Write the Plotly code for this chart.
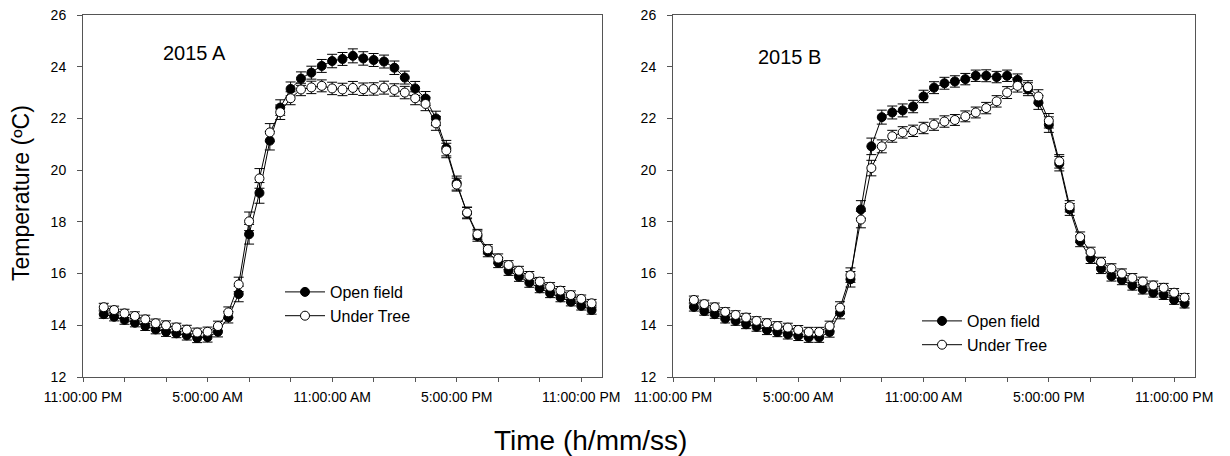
import pandas as pd
import plotly.graph_objects as go
from plotly.subplots import make_subplots

FONT = "Liberation Sans, Arial, sans-serif"
BLACK = "#000000"
WHITE = "#ffffff"
SPINE = "#555555"

# half-hourly readings, midnight -> 23:30
times = pd.date_range("2015-01-02 00:00", periods=48, freq="30min")

open_field_A = [14.43, 14.33, 14.21, 14.10, 13.97, 13.84, 13.75, 13.69, 13.61, 13.51, 13.54, 13.75,
                14.31, 15.21, 17.52, 19.12, 21.14, 22.42, 23.14, 23.54, 23.77, 24.03, 24.22, 24.30,
                24.42, 24.32, 24.26, 24.20, 23.96, 23.58, 23.16, 22.77, 22.00, 20.85, 19.50, 18.34,
                17.45, 16.84, 16.42, 16.11, 15.88, 15.65, 15.43, 15.24, 15.08, 14.91, 14.75, 14.59]
under_tree_A = [14.70, 14.59, 14.46, 14.36, 14.23, 14.08, 14.00, 13.92, 13.83, 13.72, 13.75, 13.97,
                14.50, 15.58, 18.02, 19.68, 21.46, 22.24, 22.78, 23.12, 23.20, 23.26, 23.16, 23.12,
                23.18, 23.13, 23.14, 23.19, 23.10, 23.00, 22.78, 22.56, 21.81, 20.76, 19.44, 18.36,
                17.52, 16.94, 16.58, 16.33, 16.11, 15.91, 15.69, 15.49, 15.34, 15.17, 15.02, 14.85]
open_field_B = [14.71, 14.55, 14.43, 14.26, 14.17, 14.04, 13.94, 13.82, 13.74, 13.65, 13.59, 13.53,
                13.53, 13.74, 14.49, 15.78, 18.48, 20.92, 22.05, 22.23, 22.31, 22.46, 22.85, 23.19,
                23.36, 23.43, 23.52, 23.65, 23.65, 23.60, 23.65, 23.49, 23.13, 22.62, 21.76, 20.25,
                18.48, 17.25, 16.59, 16.19, 15.90, 15.75, 15.54, 15.39, 15.26, 15.17, 14.98, 14.84]
under_tree_B = [14.98, 14.82, 14.70, 14.52, 14.40, 14.30, 14.17, 14.08, 13.97, 13.91, 13.82, 13.74,
                13.74, 13.97, 14.68, 15.94, 18.09, 20.08, 20.92, 21.31, 21.46, 21.52, 21.63, 21.76,
                21.88, 21.94, 22.08, 22.23, 22.40, 22.66, 23.00, 23.26, 23.21, 22.85, 21.91, 20.34,
                18.60, 17.41, 16.83, 16.44, 16.20, 16.00, 15.83, 15.69, 15.54, 15.45, 15.26, 15.07]

# standard errors (estimated)
err_open_A = [0.16, 0.16, 0.17, 0.16, 0.17, 0.17, 0.18, 0.17, 0.18, 0.18, 0.19, 0.20,
              0.22, 0.30, 0.38, 0.40, 0.36, 0.30, 0.27, 0.26, 0.25, 0.25, 0.26, 0.25,
              0.27, 0.26, 0.25, 0.25, 0.26, 0.25, 0.27, 0.27, 0.28, 0.30, 0.27, 0.22,
              0.20, 0.19, 0.19, 0.18, 0.18, 0.18, 0.17, 0.17, 0.17, 0.16, 0.16, 0.16]
err_tree_A = [0.15, 0.15, 0.16, 0.16, 0.16, 0.16, 0.17, 0.16, 0.17, 0.17, 0.18, 0.19,
              0.21, 0.28, 0.36, 0.38, 0.34, 0.28, 0.25, 0.24, 0.24, 0.23, 0.24, 0.24,
              0.25, 0.24, 0.24, 0.25, 0.24, 0.24, 0.25, 0.26, 0.27, 0.28, 0.25, 0.21,
              0.19, 0.18, 0.18, 0.17, 0.17, 0.17, 0.16, 0.16, 0.16, 0.16, 0.15, 0.15]
err_open_B = [0.16, 0.16, 0.16, 0.17, 0.17, 0.17, 0.17, 0.18, 0.18, 0.18, 0.18, 0.19,
              0.19, 0.20, 0.24, 0.30, 0.34, 0.32, 0.27, 0.25, 0.25, 0.24, 0.24, 0.23,
              0.23, 0.22, 0.22, 0.22, 0.23, 0.22, 0.22, 0.23, 0.25, 0.27, 0.30, 0.28,
              0.23, 0.21, 0.20, 0.19, 0.19, 0.18, 0.18, 0.18, 0.17, 0.17, 0.17, 0.17]
err_tree_B = [0.15, 0.15, 0.16, 0.16, 0.16, 0.16, 0.16, 0.17, 0.17, 0.17, 0.17, 0.18,
              0.18, 0.19, 0.23, 0.28, 0.32, 0.30, 0.25, 0.23, 0.22, 0.22, 0.22, 0.22,
              0.22, 0.21, 0.21, 0.21, 0.22, 0.22, 0.23, 0.24, 0.25, 0.26, 0.28, 0.26,
              0.22, 0.20, 0.19, 0.19, 0.18, 0.18, 0.17, 0.17, 0.17, 0.17, 0.16, 0.16]

series_names = ["Open field", "Under Tree"]
panel_labels = ["2015 A", "2015 B"]

# the page body has an 8px margin; the figure runs from there to the window edge
PAD = 8
W, H = 1230 - PAD, 456 - PAD
L_TOP, L_BOT = 15 - PAD, 377 - PAD


def px_x(p):
    # window pixel -> paper fraction
    return (p - PAD) / W


def px_y(p):
    return (L_BOT - (p - PAD)) / (L_BOT - L_TOP)


fig = make_subplots(rows=1, cols=2)


def add_series(y, err, name, filled, col, legend):
    fig.add_trace(go.Scatter(
            x=times, y=y, name=name, mode="lines+markers",
            line=dict(color=BLACK, width=1),
            marker=dict(symbol="circle", size=9,
                        color=BLACK if filled else WHITE,
                        line=dict(color=BLACK, width=1)),
            error_y=dict(type="data", array=err, visible=True,
                         color=BLACK, thickness=1, width=5),
            legend=legend,
        ),
        row=1, col=col
    )


add_series(open_field_A, err_open_A, series_names[0], True, 1, "legend")
add_series(under_tree_A, err_tree_A, series_names[1], False, 1, "legend")
add_series(open_field_B, err_open_B, series_names[0], True, 2, "legend2")
add_series(under_tree_B, err_tree_B, series_names[1], False, 2, "legend2")

axis_common = dict(
    showline=True, linecolor=SPINE, linewidth=1, mirror=True,
    showgrid=False, zeroline=False, automargin=False,
    ticks="outside", tickcolor=SPINE, ticklabeloverflow="allow",
    tickfont=dict(family=FONT, size=14, color=BLACK),
)

for col, dom in [(1, [px_x(83), px_x(602)]), (2, [px_x(673), px_x(1195)])]:
    fig.update_xaxes(
        domain=dom,
        type="date",
        range=["2015-01-01 23:00", "2015-01-03 00:00"],
        tick0="2015-01-01 23:00", dtick=6 * 3600 * 1000,
        tickformat="%-I:%M:%S %p",
        ticklen=4,
        ticklabelstandoff=3,
        minor=dict(ticks="outside", ticklen=4, tickcolor=SPINE,
                   tick0="2015-01-01 23:00", dtick=2 * 3600 * 1000, showgrid=False),
        row=1, col=col,
        **axis_common
    )
    fig.update_yaxes(
        range=[12, 26], tick0=12, dtick=2,
        ticklen=5,
        ticklabelstandoff=8,
        row=1, col=col,
        **axis_common
    )

legend_style = dict(
    font=dict(family=FONT, size=16, color=BLACK),
    bgcolor="rgba(0,0,0,0)", borderwidth=0,
    xanchor="left", yanchor="top", itemwidth=40,
    tracegroupgap=0,
)


def note(text, x, y, size, angle=0):
    return dict(text=text, x=px_x(x), y=px_y(y), xref="paper", yref="paper",
                xanchor="center", yanchor="middle", textangle=angle,
                showarrow=False, font=dict(family=FONT, size=size, color=BLACK))


fig.update_layout(
    width=W, height=H,
    margin=dict(l=0, r=0, t=L_TOP, b=H - L_BOT, autoexpand=False),
    plot_bgcolor=WHITE, paper_bgcolor=WHITE,
    font=dict(family=FONT, color=BLACK),
    showlegend=True,
    legend=dict(x=px_x(280), y=px_y(275), **legend_style),
    legend2=dict(x=px_x(917), y=px_y(304), **legend_style),
    annotations=[
        note(panel_labels[0], 194, 53, 20),
        note(panel_labels[1], 789, 57, 20),
        note("Temperature (ºC)", 21, 193, 23, -90),
        note("Time (h/mm/ss)", 590, 440, 28),
    ],
)

fig.write_html("out.html")
